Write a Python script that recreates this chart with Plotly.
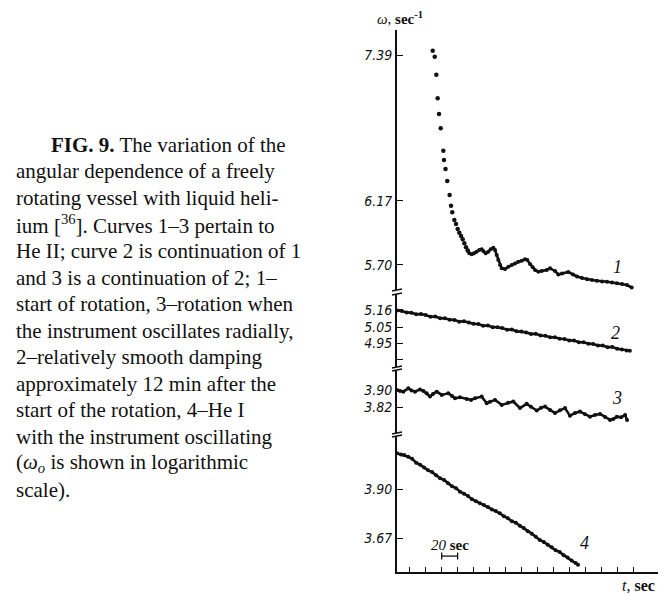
import math
import plotly.graph_objects as go

# ---------------- data (t in sec, omega in sec^-1) ----------------
# curve 1 : start of rotation (sparse dots, then dense trace)
C1_SPARSE_T = [44.8, 47.3, 49.3, 51.0, 52.7, 54.8, 58.1, 58.9, 60.8, 63.0, 66.0,
               67.7, 69.3, 71.9, 74.0, 76.1, 78.1, 80.3, 82.4, 84.4, 86.5, 88.7]
C1_SPARSE_W = [7.429, 7.374, 7.212, 7.004, 6.870, 6.749, 6.565, 6.489, 6.418, 6.323, 6.214,
               6.133, 6.083, 6.025, 5.996, 5.959, 5.931, 5.907, 5.883, 5.854, 5.825, 5.801]
C1_T = [90.7, 93.7, 96.6, 99.9, 103.2, 106.2, 108.2, 111.2, 114.5, 117.5, 120.8, 122.9,
        125.0, 127.0, 129.2, 131.3, 135.4, 139.6, 143.8, 148.0, 152.1, 156.4, 160.5, 163.4,
        166.8, 170.2, 173.1, 177.2, 181.5, 187.7, 191.9, 198.1, 202.3, 206.9, 214.8, 220.7,
        225.7, 232.0, 238.3, 244.5, 250.8, 257.1, 263.3, 269.6, 275.9, 282.2, 288.4, 294.3]
C1_W = [5.782, 5.775, 5.782, 5.793, 5.806, 5.811, 5.798, 5.782, 5.793, 5.811, 5.822, 5.806,
        5.769, 5.734, 5.698, 5.675, 5.670, 5.687, 5.698, 5.710, 5.722, 5.729, 5.739, 5.734,
        5.706, 5.682, 5.664, 5.652, 5.657, 5.664, 5.675, 5.657, 5.632, 5.639, 5.650, 5.632,
        5.618, 5.608, 5.599, 5.594, 5.589, 5.583, 5.582, 5.577, 5.571, 5.566, 5.559, 5.542]

# curve 2 : relatively smooth damping
C2_T = [0, 6, 12, 18, 24, 30, 36, 42, 48, 54, 60, 66, 72, 78, 84, 90, 96, 102, 108, 114,
        120, 126, 132, 138, 144, 150, 156, 162, 168, 174, 180, 186, 192, 198, 204, 210,
        216, 222, 228, 234, 240, 246, 252, 258, 264, 270, 276, 282, 288, 292]
C2_W = [5.155, 5.152, 5.143, 5.141, 5.131, 5.132, 5.126, 5.115, 5.117, 5.106, 5.105, 5.096,
        5.095, 5.084, 5.086, 5.078, 5.070, 5.069, 5.058, 5.059, 5.049, 5.048, 5.043, 5.033,
        5.034, 5.023, 5.021, 5.016, 5.006, 5.007, 4.997, 4.995, 4.986, 4.985, 4.976, 4.975,
        4.966, 4.965, 4.955, 4.955, 4.946, 4.944, 4.935, 4.934, 4.924, 4.926, 4.914, 4.910,
        4.904, 4.902]

# curve 3 : rotation with radial oscillation of the instrument
C3_T = [0, 3.8, 7.9, 14.2, 18.2, 22.6, 28.8, 33.2, 37.2, 41.4, 45.1, 49.8, 56.1, 64.3,
        69.0, 72.7, 79.0, 87.4, 92.8, 97.8, 106.2, 112.5, 116.6, 122.9, 131.3, 139.2,
        145.8, 154.2, 162.6, 168.0, 175.2, 180.6, 185.6, 191.9, 198.1, 204.4, 210.7,
        216.9, 223.2, 229.5, 235.8, 242.0, 248.3, 254.6, 260.9, 267.2, 271.3, 275.6,
        281.0, 286.0, 288.5]
C3_W = [3.902, 3.897, 3.894, 3.910, 3.900, 3.894, 3.905, 3.897, 3.886, 3.870, 3.883,
        3.894, 3.878, 3.886, 3.873, 3.862, 3.867, 3.858, 3.854, 3.862, 3.870, 3.838,
        3.845, 3.854, 3.830, 3.840, 3.846, 3.815, 3.835, 3.821, 3.803, 3.816, 3.822,
        3.806, 3.791, 3.804, 3.815, 3.778, 3.792, 3.798, 3.785, 3.774, 3.782, 3.787,
        3.773, 3.759, 3.763, 3.774, 3.771, 3.782, 3.759]

# curve 4 : He I with the instrument oscillating
C4_T = [0, 5, 9, 14, 19, 24, 29, 34, 39, 44, 49, 54, 59, 64, 69, 74, 79, 84, 89, 94, 99,
        104, 109, 114, 119, 124, 129, 134, 139, 144, 149, 154, 159, 164, 169, 174, 179,
        184, 189, 194, 199, 204, 209, 214, 219, 224, 227]
C4_W = [4.080, 4.074, 4.071, 4.062, 4.052, 4.032, 4.022, 4.008, 3.994, 3.985, 3.970,
        3.955, 3.946, 3.930, 3.915, 3.906, 3.889, 3.879, 3.868, 3.852, 3.842, 3.833,
        3.824, 3.815, 3.803, 3.796, 3.785, 3.771, 3.762, 3.748, 3.741, 3.727, 3.716,
        3.701, 3.690, 3.676, 3.661, 3.652, 3.639, 3.628, 3.614, 3.606, 3.592, 3.582,
        3.568, 3.557, 3.549]

# axis ticks
TICKS_A = [7.39, 6.17, 5.70]
TICKTEXT_A = ["7.39", "6.17", "5.70"]
TICKS_B = [5.16, 5.05, 4.95, 4.85]
TICKTEXT_B = ["5.16", "5.05", "4.95", " "]
TICKS_C = [3.90, 3.82]
TICKTEXT_C = ["3.90", "3.82"]
TICKS_D = [3.90, 3.67]
TICKTEXT_D = ["3.90", "3.67"]
T_TICKS = [16 + 20 * k for k in range(15)]

# 20-sec scale bar
BAR_T = [56, 76]
BAR_W = [3.588, 3.588]

CAPTION_LINES = [
    "<b>FIG. 9.</b> The variation of the",
    "angular dependence of a freely",
    "rotating vessel with liquid heli-",
    "ium [<sup>36</sup>]. Curves 1–3 pertain to",
    "He II; curve 2 is continuation of 1",
    "and 3 is a continuation of 2; 1–",
    "start of rotation, 3–rotation when",
    "the instrument oscillates radially,",
    "2–relatively smooth damping",
    "approximately 12 min after the",
    "start of the rotation, 4–He I",
    "with the instrument oscillating",
    "(<i>ω<sub>o</sub></i> is shown in logarithmic",
    "scale).",
]

# ---------------- layout geometry (screen px; page body has an 8px margin) ----------------
W, H = 670, 594
OFF = 8
AX_L, AX_R, AX_T, AX_B = 397, 658, 30, 572      # desired on-screen plot box
ML = AX_L - OFF
MT = AX_T - OFF
MR = W - (AX_R - OFF)
MB = H - (AX_B - OFF)
PW, PH = AX_R - AX_L, AX_B - AX_T
PX_PER_SEC = 0.7975
PX_PER_LN = 800.0


def frac_y(py):
    return (AX_B - py) / PH


def frac_x(px):
    return (px - AX_L) / PW


# segments: (top px, bottom px, reference value, reference px, px per ln)
SEGS = [
    (30, 290, 7.39, 55, 808.0),
    (294, 367, 5.05, 327, PX_PER_LN),
    (370, 433, 3.82, 407, PX_PER_LN),
    (436, 572, 3.67, 538, PX_PER_LN),
]

INK = "#111111"
TICKFONT = dict(family="DejaVu Sans Condensed, Liberation Sans, sans-serif",
                size=14, color=INK, style="italic")

fig = go.Figure()

tick_sets = [(TICKS_A, TICKTEXT_A), (TICKS_B, TICKTEXT_B),
             (TICKS_C, TICKTEXT_C), (TICKS_D, TICKTEXT_D)]

for i, (top, bot, vref, pref, k) in enumerate(SEGS):
    lref = math.log10(vref)
    k10 = k * math.log(10)
    rng = [lref - (bot - pref) / k10, lref + (pref - top) / k10]
    name = "yaxis" if i == 0 else f"yaxis{i + 1}"
    tv, tt = tick_sets[i]
    fig.layout[name] = dict(
        domain=[frac_y(bot), frac_y(top)], type="log", range=rng,
        tickvals=tv, ticktext=[f"<i>{s}</i>" for s in tt], ticks="inside", ticklen=6,
        tickwidth=1.3, tickcolor=INK, showline=True, linecolor=INK, linewidth=1.7,
        showgrid=False, zeroline=False, anchor="x", tickfont=TICKFONT,
        automargin=False, fixedrange=True,
    )

fig.update_layout(
    xaxis=dict(range=[0, PW / PX_PER_SEC], anchor="y4", tickvals=T_TICKS,
               showticklabels=False, ticks="inside", ticklen=5, tickwidth=1.3,
               tickcolor=INK, showline=True, linecolor=INK, linewidth=1.7,
               showgrid=False, zeroline=False, automargin=False),
)

dense = dict(mode="lines+markers", line=dict(color=INK, width=2.6),
             marker=dict(color=INK, size=4), showlegend=False, hoverinfo="skip")

fig.add_trace(go.Scatter(x=C1_SPARSE_T, y=C1_SPARSE_W, mode="markers",
                         marker=dict(color=INK, size=4.5), showlegend=False,
                         xaxis="x", yaxis="y"))
fig.add_trace(go.Scatter(x=[C1_SPARSE_T[-1]] + C1_T, y=[C1_SPARSE_W[-1]] + C1_W,
                         xaxis="x", yaxis="y", **dense))
fig.add_trace(go.Scatter(x=C2_T, y=C2_W, xaxis="x", yaxis="y2", **dense))
fig.add_trace(go.Scatter(x=C3_T, y=C3_W, xaxis="x", yaxis="y3", **dense))
fig.add_trace(go.Scatter(x=C4_T, y=C4_W, xaxis="x", yaxis="y4", **dense))

# scale bar
fig.add_trace(go.Scatter(x=BAR_T, y=BAR_W, xaxis="x", yaxis="y4", mode="lines+markers",
                         line=dict(color=INK, width=1.3),
                         marker=dict(symbol="line-ns-open", size=5,
                                     line=dict(color=INK, width=1.3)),
                         showlegend=False))

ann = []
# curve labels
LABELS = [("1", 277, 5.684, "y"), ("2", 273.4, 5.012, "y2"),
          ("3", 275.9, 3.863, "y3"), ("4", 235.7, 3.647, "y4")]
for txt, tx, wy, ya in LABELS:
    ann.append(dict(x=tx, y=math.log10(wy), xref="x", yref=ya, text=f"<i>{txt}</i>",
                    showarrow=False, xanchor="center", yanchor="middle",
                    font=dict(family="Liberation Serif", size=18, color=INK)))
ann.append(dict(x=66.5, y=math.log10(3.640), xref="x", yref="y4",
                text="<i>20</i> <b>sec</b>", showarrow=False, xanchor="center",
                yanchor="middle", font=dict(family="Liberation Serif", size=15, color=INK)))
# axis titles
ann.append(dict(x=frac_x(400), y=frac_y(18), xref="paper", yref="paper",
                xanchor="center", yanchor="middle",
                text="<i>ω</i>, <b>sec<sup>-1</sup></b>", showarrow=False,
                font=dict(family="Liberation Serif", size=15, color=INK)))
ann.append(dict(x=frac_x(638), y=frac_y(585), xref="paper", yref="paper",
                xanchor="center", yanchor="middle",
                text="<i>t</i>, <b>sec</b>", showarrow=False,
                font=dict(family="Liberation Serif", size=16, color=INK)))

# caption
for n, line in enumerate(CAPTION_LINES):
    base = 151.7 + 26.56 * n
    xl = 49 if n == 0 else 14
    ann.append(dict(x=frac_x(xl), y=frac_y(base - 7), xref="paper", yref="paper",
                    xanchor="left", yanchor="middle", text=line, showarrow=False,
                    font=dict(family="Liberation Serif", size=21, color=INK)))

fig.update_layout(annotations=ann)

# axis break marks
shapes = []
for top_px in [290, 294, 367, 370, 433, 436]:
    shapes.append(dict(type="line", xref="paper", yref="paper", xsizemode="pixel",
                       ysizemode="pixel", xanchor=0, yanchor=frac_y(top_px),
                       x0=-5, x1=5, y0=-1, y1=1, line=dict(color=INK, width=1.4)))
fig.update_layout(shapes=shapes)

fig.update_layout(width=W, height=H, margin=dict(l=ML, r=MR, t=MT, b=MB, autoexpand=False),
                  paper_bgcolor="white", plot_bgcolor="white", showlegend=False)

fig.write_html("out.html")
